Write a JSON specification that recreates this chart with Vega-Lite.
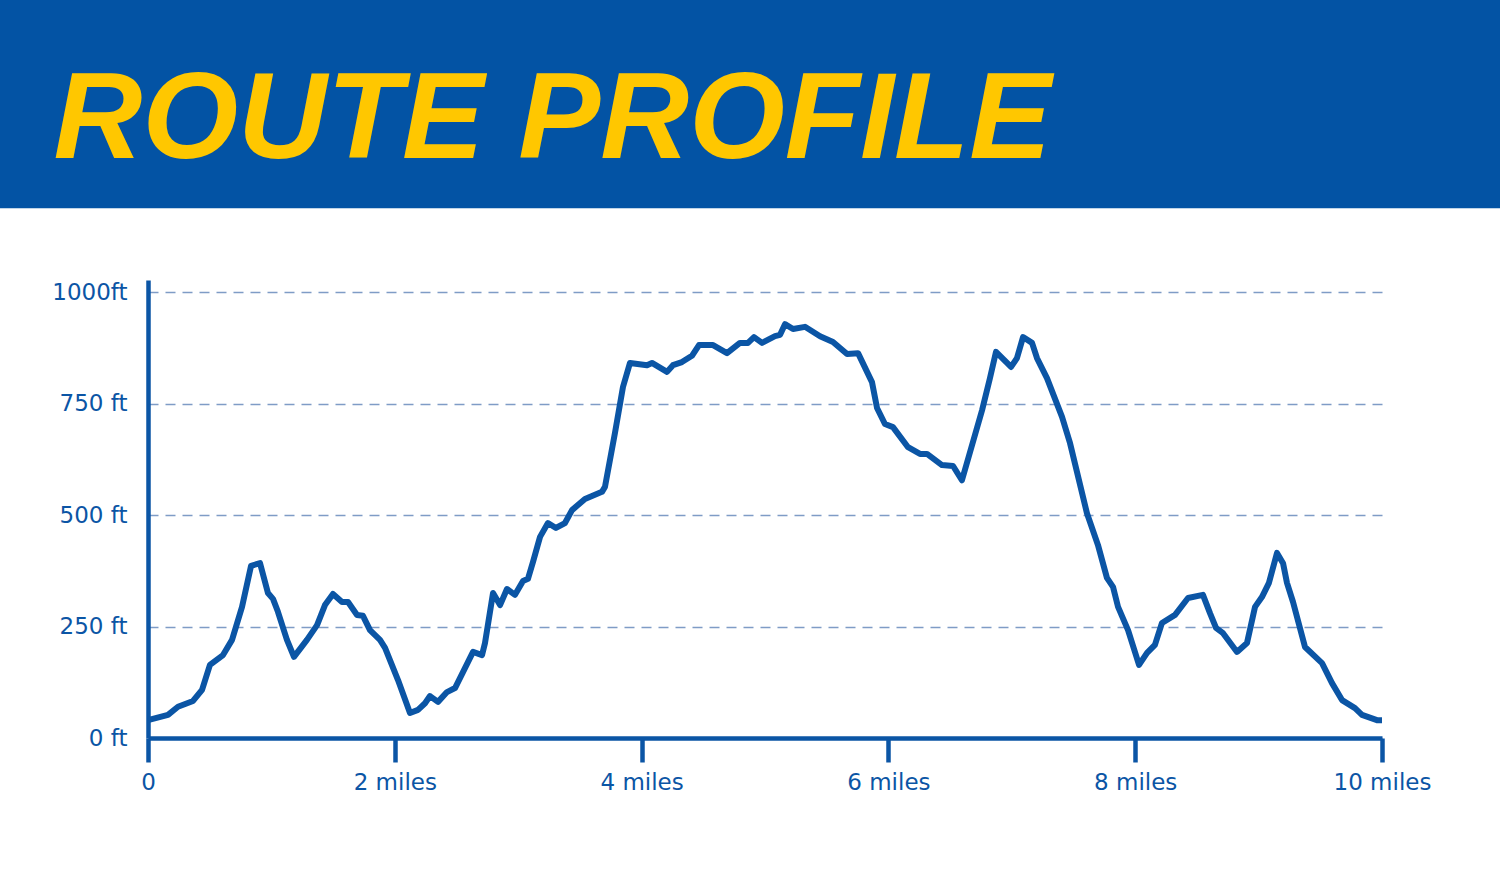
{
  "$schema": "https://vega.github.io/schema/vega-lite/v6.json",
  "width": 1234,
  "height": 458,
  "autosize": "none",
  "padding": {"left": 148, "top": 280, "right": 118, "bottom": 142},
  "background": "white",
  "config": {"view": {"stroke": null}, "font": "DejaVu Sans"},
  "layer": [
    {
      "data": {"values": [
        {"mi": 0, "ft": 40}, {"mi": 0.162, "ft": 52}, {"mi": 0.243, "ft": 70}, {"mi": 0.365, "ft": 83},
        {"mi": 0.438, "ft": 108}, {"mi": 0.502, "ft": 164}, {"mi": 0.608, "ft": 186}, {"mi": 0.681, "ft": 220},
        {"mi": 0.762, "ft": 294}, {"mi": 0.835, "ft": 386}, {"mi": 0.908, "ft": 392}, {"mi": 0.972, "ft": 325},
        {"mi": 1.013, "ft": 312}, {"mi": 1.053, "ft": 283}, {"mi": 1.126, "ft": 220}, {"mi": 1.183, "ft": 182},
        {"mi": 1.288, "ft": 220}, {"mi": 1.37, "ft": 253}, {"mi": 1.434, "ft": 298}, {"mi": 1.499, "ft": 323},
        {"mi": 1.572, "ft": 305}, {"mi": 1.621, "ft": 305}, {"mi": 1.694, "ft": 276}, {"mi": 1.742, "ft": 274},
        {"mi": 1.799, "ft": 242}, {"mi": 1.88, "ft": 220}, {"mi": 1.921, "ft": 202}, {"mi": 2.026, "ft": 130},
        {"mi": 2.123, "ft": 56}, {"mi": 2.188, "ft": 63}, {"mi": 2.245, "ft": 78}, {"mi": 2.285, "ft": 94},
        {"mi": 2.35, "ft": 81}, {"mi": 2.423, "ft": 103}, {"mi": 2.488, "ft": 112}, {"mi": 2.634, "ft": 193},
        {"mi": 2.707, "ft": 186}, {"mi": 2.731, "ft": 213}, {"mi": 2.796, "ft": 325}, {"mi": 2.853, "ft": 298},
        {"mi": 2.909, "ft": 334}, {"mi": 2.974, "ft": 321}, {"mi": 3.039, "ft": 352}, {"mi": 3.079, "ft": 357},
        {"mi": 3.12, "ft": 395}, {"mi": 3.177, "ft": 451}, {"mi": 3.241, "ft": 482}, {"mi": 3.306, "ft": 471},
        {"mi": 3.379, "ft": 482}, {"mi": 3.436, "ft": 511}, {"mi": 3.541, "ft": 536}, {"mi": 3.679, "ft": 552},
        {"mi": 3.703, "ft": 563}, {"mi": 3.784, "ft": 684}, {"mi": 3.849, "ft": 787}, {"mi": 3.906, "ft": 841},
        {"mi": 4.044, "ft": 836}, {"mi": 4.084, "ft": 841}, {"mi": 4.206, "ft": 821}, {"mi": 4.254, "ft": 836},
        {"mi": 4.327, "ft": 843}, {"mi": 4.408, "ft": 857}, {"mi": 4.465, "ft": 881}, {"mi": 4.579, "ft": 881},
        {"mi": 4.692, "ft": 863}, {"mi": 4.797, "ft": 886}, {"mi": 4.862, "ft": 886}, {"mi": 4.911, "ft": 899},
        {"mi": 4.976, "ft": 886}, {"mi": 5.081, "ft": 901}, {"mi": 5.122, "ft": 904}, {"mi": 5.162, "ft": 928},
        {"mi": 5.227, "ft": 917}, {"mi": 5.324, "ft": 922}, {"mi": 5.446, "ft": 901}, {"mi": 5.551, "ft": 888},
        {"mi": 5.665, "ft": 861}, {"mi": 5.754, "ft": 863}, {"mi": 5.867, "ft": 798}, {"mi": 5.908, "ft": 740},
        {"mi": 5.972, "ft": 704}, {"mi": 6.037, "ft": 697}, {"mi": 6.159, "ft": 652}, {"mi": 6.256, "ft": 637},
        {"mi": 6.313, "ft": 637}, {"mi": 6.434, "ft": 612}, {"mi": 6.524, "ft": 610}, {"mi": 6.596, "ft": 578},
        {"mi": 6.759, "ft": 735}, {"mi": 6.823, "ft": 807}, {"mi": 6.872, "ft": 866}, {"mi": 6.994, "ft": 832},
        {"mi": 7.042, "ft": 852}, {"mi": 7.091, "ft": 899}, {"mi": 7.164, "ft": 886}, {"mi": 7.204, "ft": 852},
        {"mi": 7.285, "ft": 807}, {"mi": 7.407, "ft": 720}, {"mi": 7.472, "ft": 661}, {"mi": 7.609, "ft": 504},
        {"mi": 7.698, "ft": 433}, {"mi": 7.771, "ft": 359}, {"mi": 7.82, "ft": 339}, {"mi": 7.861, "ft": 294},
        {"mi": 7.942, "ft": 242}, {"mi": 8.031, "ft": 164}, {"mi": 8.096, "ft": 191}, {"mi": 8.16, "ft": 209},
        {"mi": 8.217, "ft": 258}, {"mi": 8.323, "ft": 276}, {"mi": 8.428, "ft": 314}, {"mi": 8.549, "ft": 321},
        {"mi": 8.606, "ft": 280}, {"mi": 8.655, "ft": 247}, {"mi": 8.712, "ft": 235}, {"mi": 8.825, "ft": 193},
        {"mi": 8.906, "ft": 213}, {"mi": 8.971, "ft": 294}, {"mi": 9.027, "ft": 316}, {"mi": 9.084, "ft": 348},
        {"mi": 9.149, "ft": 415}, {"mi": 9.198, "ft": 392}, {"mi": 9.23, "ft": 348}, {"mi": 9.279, "ft": 305},
        {"mi": 9.376, "ft": 204}, {"mi": 9.514, "ft": 168}, {"mi": 9.595, "ft": 123}, {"mi": 9.676, "ft": 85},
        {"mi": 9.781, "ft": 67}, {"mi": 9.838, "ft": 52}, {"mi": 9.959, "ft": 40}, {"mi": 10, "ft": 40}
      ]},
      "mark": {"type": "line", "color": "#0b55a5", "strokeWidth": 6, "strokeJoin": "round"},
      "encoding": {
        "x": {
          "field": "mi",
          "type": "quantitative",
          "title": null,
          "scale": {"domain": [0, 10], "nice": false},
          "axis": {
            "values": [0, 2, 4, 6, 8, 10],
            "labelExpr": "datum.value == 0 ? '0' : datum.value + ' miles'",
            "grid": false,
            "tickSize": 24,
            "tickWidth": 4.5,
            "tickColor": "#0b55a5",
            "domainColor": "#0b55a5",
            "domainWidth": 4.5,
            "labelPadding": 9,
            "labelFlush": false,
            "labelFont": "DejaVu Sans",
            "labelFontSize": 23,
            "labelColor": "#0b55a5"
          }
        },
        "y": {
          "field": "ft",
          "type": "quantitative",
          "title": null,
          "scale": {"domain": [0, 1027], "nice": false},
          "axis": {
            "values": [0, 250, 500, 750, 1000],
            "labelExpr": "datum.value == 1000 ? '1000ft' : datum.value + ' ft'",
            "ticks": false,
            "labelPadding": 21,
            "labelFont": "DejaVu Sans",
            "labelFontSize": 23,
            "labelColor": "#0b55a5",
            "domainColor": "#0b55a5",
            "domainWidth": 4.5,
            "gridColor": "#7f9cc6",
            "gridWidth": 1.5,
            "gridDash": [10, 7]
          }
        }
      }
    },
    {
      "data": {"values": [{"title": "ROUTE PROFILE"}]},
      "layer": [
        {
          "mark": {"type": "rect", "color": "#0353a4", "clip": false},
          "encoding": {
            "x": {"datum": -1.5, "type": "quantitative", "title": null},
            "x2": {"datum": 11.5},
            "y": {"datum": 1188, "type": "quantitative", "title": null},
            "y2": {"datum": 1700}
          }
        },
        {
          "mark": {"type": "text", "color": "#ffc700", "font": "Liberation Sans", "fontSize": 123, "fontStyle": "italic", "fontWeight": "bold", "align": "left", "baseline": "alphabetic", "clip": false},
          "encoding": {
            "x": {"datum": -0.765, "type": "quantitative", "title": null},
            "y": {"datum": 1300, "type": "quantitative", "title": null},
            "text": {"field": "title"}
          }
        }
      ]
    }
  ]
}
